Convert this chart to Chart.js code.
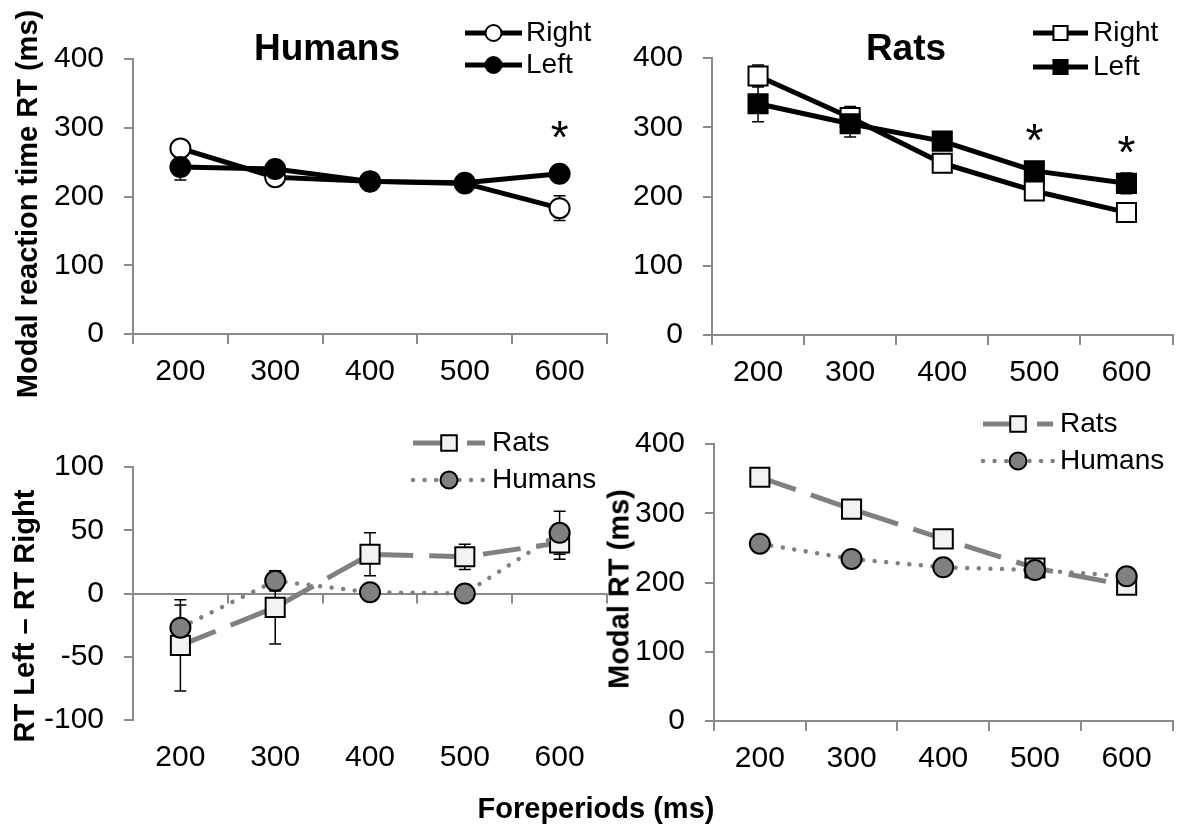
<!DOCTYPE html>
<html><head><meta charset="utf-8">
<script src="https://cdn.jsdelivr.net/npm/chart.js@4"></script>
<style>
html,body{margin:0;padding:0;background:#fff;}
#wrap{position:relative;width:1188px;height:830px;overflow:hidden;font-family:"Liberation Sans",Arial,sans-serif;color:#000;}
canvas{position:absolute;left:0;top:0;}
.t{position:absolute;white-space:nowrap;font-weight:bold;line-height:1;transform:translate(-50%,-50%);}
.v{transform:translate(-50%,-50%) rotate(-90deg);}
</style></head>
<body><div id="wrap">
<canvas id="c1" width="1188" height="830"></canvas>
<canvas id="c2" width="1188" height="830"></canvas>
<canvas id="c3" width="1188" height="830"></canvas>
<canvas id="c4" width="1188" height="830"></canvas>
<div class="t" style="left:327px;top:47px;font-size:37px">Humans</div>
<div class="t" style="left:906px;top:47px;font-size:37px">Rats</div>
<div class="t v" style="left:27px;top:204px;font-size:29px">Modal reaction time RT (ms)</div>
<div class="t v" style="left:24px;top:616px;font-size:29px">RT Left – RT Right</div>
<div class="t v" style="left:619px;top:589px;font-size:29px">Modal RT (ms)</div>
<div class="t" style="left:596px;top:808px;font-size:29px">Foreperiods (ms)</div>
</div>
<script>
// ---- data ----
const foreperiods = ['200','300','400','500','600'];
const humansRight = [270, 228, 222, 219, 183];
const humansRightErr = [10, 10, 8, 8, 18];
const humansLeft = [243, 240, 222, 220, 233];
const humansLeftErr = [19, 10, 8, 8, 8];
const humansSig = [null, null, null, null, 297];
const ratsRight = [374, 314, 248, 208, 177];
const ratsRightErr = [16, 16, 10, 10, 10];
const ratsLeft = [334, 305, 280, 237, 219];
const ratsLeftErr = [26, 19, 10, 10, 15];
const ratsSig = [null, null, null, 293, 275];
const diffRats = [-41, -11, 31, 29, 40];
const diffRatsErr = [36, 29, 17, 10, 13];
const diffHumans = [-27, 10, 1, 0, 48];
const diffHumansErr = [18, 8, 5, 5, 17];
const modalRats = [352, 306, 263, 221, 196];
const modalHumans = [256, 234, 222, 218, 209];
const rtAxis = [0, 400, 100];
const diffAxis = [-100, 100, 50];

// ---- styling ----
const FONT = '"Liberation Sans", Arial, sans-serif';
const AX = '#8a8a8a', AXW = 2;
const GRAY = '#808080';
const TICKFONT = 30;
const YW = 100;
Chart.defaults.font.family = FONT;

function drawMarker(ctx, style, r, x, y){
  ctx.beginPath();
  if (style === 'rect'){ const s = r*Math.SQRT1_2; ctx.rect(x-s, y-s, 2*s, 2*s); }
  else ctx.arc(x, y, r, 0, Math.PI*2);
  ctx.fill(); ctx.stroke();
}

const errorBarPlugin = {
  id:'errorBars',
  beforeDatasetsDraw(chart){
    const ctx = chart.ctx, ys = chart.scales.y;
    chart.data.datasets.forEach((ds,i)=>{
      if (!ds.errors) return;
      const meta = chart.getDatasetMeta(i);
      ctx.save(); ctx.strokeStyle = '#000'; ctx.lineWidth = 1.5;
      meta.data.forEach((pt,j)=>{
        const e = ds.errors[j]; if (!e) return;
        const v = ds.data[j];
        const yt = ys.getPixelForValue(v+e), yb = ys.getPixelForValue(v-e), x = pt.x;
        ctx.beginPath();
        ctx.moveTo(x, yt); ctx.lineTo(x, yb);
        ctx.moveTo(x-6, yt); ctx.lineTo(x+6, yt);
        ctx.moveTo(x-6, yb); ctx.lineTo(x+6, yb);
        ctx.stroke();
      });
      ctx.restore();
    });
  }
};

const legendPlugin = {
  id:'lineLegend',
  afterDraw(chart, args, opts){
    if (!opts.rows) return;
    const ctx = chart.ctx;
    opts.order.forEach((di,k)=>{
      const ds = chart.data.datasets[di];
      const y = opts.rows[k];
      ctx.save();
      ctx.strokeStyle = ds.borderColor; ctx.lineWidth = ds.borderWidth;
      ctx.lineCap = ds.borderCapStyle || 'butt';
      ctx.setLineDash(ds.borderDash || []);
      ctx.beginPath(); ctx.moveTo(opts.x0, y); ctx.lineTo(opts.x1, y); ctx.stroke();
      ctx.setLineDash([]);
      ctx.fillStyle = ds.pointBackgroundColor; ctx.strokeStyle = ds.pointBorderColor; ctx.lineWidth = ds.pointBorderWidth;
      drawMarker(ctx, ds.pointStyle, ds.pointStyle==='rect' ? opts.rectR : opts.circR, (opts.x0+opts.x1)/2, y);
      ctx.fillStyle = '#000'; ctx.font = opts.fontSize + 'px ' + FONT;
      ctx.textBaseline = 'middle'; ctx.textAlign = 'left';
      ctx.fillText(ds.label, opts.textX, y);
      ctx.restore();
    });
  }
};

const sigPlugin = {
  id:'sig',
  afterDatasetsDraw(chart, args, opts){
    if (!opts.values) return;
    const ctx = chart.ctx, xs = chart.scales.x, ys = chart.scales.y;
    ctx.save(); ctx.fillStyle = '#000'; ctx.font = '46px ' + FONT;
    ctx.textAlign = 'center'; ctx.textBaseline = 'alphabetic';
    const m = ctx.measureText('*');
    const off = (m.actualBoundingBoxAscent - m.actualBoundingBoxDescent)/2;
    opts.values.forEach((v,i)=>{
      if (v == null) return;
      ctx.fillText('*', xs.getPixelForValue(i), ys.getPixelForValue(v) + off);
    });
    ctx.restore();
  }
};

const zeroTickPlugin = {
  id:'zeroTicks',
  afterDatasetsDraw(chart, args, opts){
    if (!opts.enabled) return;
    const ctx = chart.ctx, xs = chart.scales.x, ys = chart.scales.y;
    const y0 = ys.getPixelForValue(0), n = chart.data.labels.length;
    ctx.save(); ctx.strokeStyle = AX; ctx.lineWidth = AXW;
    ctx.beginPath();
    for (let i=1;i<=n;i++){
      const x = i===n ? xs.right : (xs.getPixelForValue(i-1)+xs.getPixelForValue(i))/2;
      ctx.moveTo(Math.round(x), y0); ctx.lineTo(Math.round(x), y0+10);
    }
    ctx.stroke(); ctx.restore();
  }
};

function lineDs(label, data, errors, o){
  return Object.assign({
    label, data, errors, tension:0, fill:false, clip:false,
    borderWidth:5, borderColor:'#000', borderCapStyle:'butt', borderJoinStyle:'round',
    pointBorderColor:'#000', pointBorderWidth:2, pointHoverRadius:0
  }, o);
}

function makeChart(id, datasets, axis, pad, extra){
  return new Chart(document.getElementById(id), {
    type:'line',
    data:{labels:foreperiods, datasets},
    options:{
      responsive:false, animation:false, events:[], devicePixelRatio:1,
      layout:{padding:pad},
      plugins:Object.assign({legend:{display:false}, tooltip:{enabled:false}}, extra.plugins),
      scales:{
        x:{
          offset:true,
          grid:{offset:true, drawOnChartArea:false, drawTicks:true, tickLength:10,
                color:AX, tickColor: extra.diff ? 'transparent' : AX, lineWidth:AXW},
          border:{display:!extra.diff, color:AX, width:AXW},
          ticks:{font:{size:TICKFONT}, color:'#000', padding:10, maxRotation:0, autoSkip:false},
          afterFit(s){ s.height = 60; }
        },
        y:{
          min:axis[0], max:axis[1],
          ticks:{stepSize:axis[2], font:{size:TICKFONT}, color:'#000', padding:20},
          grid:{drawOnChartArea:!!extra.diff,
                color:(c)=> (extra.diff && c.tick && c.tick.value===0) ? AX : 'transparent',
                tickColor:AX, tickLength:9, lineWidth:AXW},
          border:{color:AX, width:AXW},
          afterFit(s){ s.width = YW; }
        }
      }
    },
    plugins:[errorBarPlugin, legendPlugin, sigPlugin, zeroTickPlugin]
  });
}

// Panel 1: Humans
makeChart('c1', [
  lineDs('Right', humansRight, humansRightErr, {pointStyle:'circle', pointRadius:10, pointBackgroundColor:'#fff', order:1}),
  lineDs('Left', humansLeft, humansLeftErr, {pointStyle:'circle', pointRadius:10, pointBackgroundColor:'#000', order:0})
], rtAxis, {left:133-YW, right:581, top:59, bottom:436}, {plugins:{
  lineLegend:{order:[0,1], rows:[33,65], x0:465, x1:522, textX:526, circR:8, rectR:10, fontSize:28},
  sig:{values:humansSig}
}});

// Panel 2: Rats
makeChart('c2', [
  lineDs('Right', ratsRight, ratsRightErr, {pointStyle:'rect', pointRadius:13.5, pointBackgroundColor:'#fff', order:1}),
  lineDs('Left', ratsLeft, ratsLeftErr, {pointStyle:'rect', pointRadius:13.5, pointBackgroundColor:'#000', order:0})
], rtAxis, {left:712-YW, right:3, top:58, bottom:435}, {plugins:{
  lineLegend:{order:[0,1], rows:[33,67], x0:1033, x1:1088, textX:1093, circR:8, rectR:10, fontSize:28},
  sig:{values:ratsSig}
}});

// Panel 3: Left - Right difference
makeChart('c3', [
  lineDs('Rats', diffRats, diffRatsErr, {pointStyle:'rect', pointRadius:13.5, pointBackgroundColor:'#f2f2f2',
    borderColor:GRAY, borderDash:[38,16], order:1}),
  lineDs('Humans', diffHumans, diffHumansErr, {pointStyle:'circle', pointRadius:10, pointBackgroundColor:GRAY,
    borderColor:GRAY, borderWidth:4.5, borderDash:[0.01,11.6], borderCapStyle:'round', order:0})
], diffAxis, {left:133-YW, right:581, top:467, bottom:50}, {diff:true, plugins:{
  lineLegend:{order:[0,1], rows:[443,480], x0:413, x1:485, textX:492, circR:8.5, rectR:11, fontSize:28},
  zeroTicks:{enabled:true}
}});

// Panel 4: Modal RT comparison
makeChart('c4', [
  lineDs('Rats', modalRats, null, {pointStyle:'rect', pointRadius:13.5, pointBackgroundColor:'#f2f2f2',
    borderColor:GRAY, borderDash:[38,16], order:1}),
  lineDs('Humans', modalHumans, null, {pointStyle:'circle', pointRadius:10, pointBackgroundColor:GRAY,
    borderColor:GRAY, borderWidth:4.5, borderDash:[0.01,11.6], borderCapStyle:'round', order:0})
], rtAxis, {left:714-YW, right:0, top:444, bottom:49}, {plugins:{
  lineLegend:{order:[0,1], rows:[424,461], x0:983, x1:1053, textX:1060, circR:8.5, rectR:11, fontSize:28}
}});
</script>
</body></html>
